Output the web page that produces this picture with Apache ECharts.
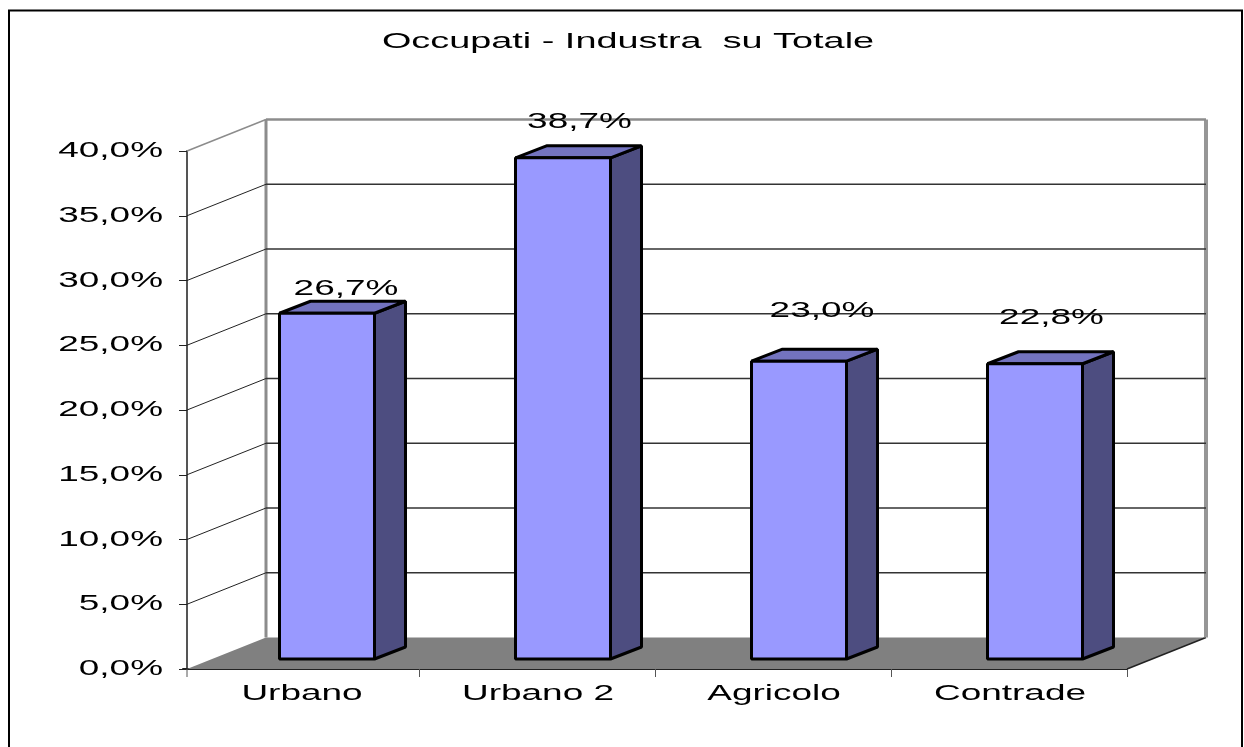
<!DOCTYPE html>
<html>
<head>
<meta charset="utf-8">
<style>
  html, body { margin: 0; padding: 0; background: #fff; }
  #chart { width: 1244px; height: 747px; }
</style>
</head>
<body>
<div id="chart"></div>
<script src="https://cdn.jsdelivr.net/npm/echarts@6/dist/echarts.min.js"></script>
<script>
const titleText = 'Occupati - Industra  su Totale'
const categories = ['Urbano', 'Urbano 2', 'Agricolo', 'Contrade']
const values = [26.7, 38.7, 23.0, 22.8]
const valueLabels = ['26,7%', '38,7%', '23,0%', '22,8%']
const yTicks = [0, 5, 10, 15, 20, 25, 30, 35, 40]
const yTickLabels = ['0,0%', '5,0%', '10,0%', '15,0%', '20,0%', '25,0%', '30,0%', '35,0%', '40,0%']

// excel style fake 3d, offsets in px
const WALL_DX = 79
const WALL_DY = 31.5
const BAR_DX = 31
const BAR_DY = 12
const BAR_WIDTH = 95
const BAR_SHIFT = 26
const BAR_LIFT = 10
const AXIS_X = 187
// the labels in the original sit at uneven places above the bars
const labelNudge = [[19, -24], [16.5, -36], [23, -50], [16.5, -46]]

const FONT = '22px "Liberation Sans", Arial, sans-serif'
const TEXT_STRETCH = 1.68

function stretchedText(text, x, y, align) {
  return {
    type: 'text',
    x: x,
    y: y,
    scaleX: TEXT_STRETCH,
    style: { text: text, fill: '#000', font: FONT, align: align, verticalAlign: 'middle' }
  }
}

function line(x1, y1, x2, y2, color, width) {
  return {
    type: 'line',
    shape: { x1: x1, y1: y1, x2: x2, y2: y2 },
    style: { stroke: color, lineWidth: width }
  }
}

function poly(points, fill, stroke, width) {
  return {
    type: 'polygon',
    shape: { points: points },
    style: { fill: fill, stroke: stroke, lineWidth: width, lineJoin: 'bevel' }
  }
}

// floor, the two gray corner posts and the tick under the y axis
function renderFloor(params, api) {
  const right = params.coordSys.x + params.coordSys.width
  const y0 = api.coord([0, 0])[1]
  const yTop = api.coord([0, 40])[1]
  return {
    type: 'group',
    children: [
      poly([[AXIS_X, y0], [right, y0], [right + WALL_DX, y0 - WALL_DY], [AXIS_X + WALL_DX, y0 - WALL_DY]], '#808080', 'none', 0),
      line(right, y0, right + WALL_DX, y0 - WALL_DY, '#222', 1.5),
      line(AXIS_X + WALL_DX, yTop - WALL_DY, AXIS_X + WALL_DX, y0 - WALL_DY, '#8c8c8c', 3),
      line(right + WALL_DX, yTop - WALL_DY, right + WALL_DX, y0 - WALL_DY, '#969696', 4),
      line(AXIS_X, y0, AXIS_X, y0 + 8, '#555', 1)
    ]
  }
}

// gridlines run along the side wall then the back wall
function renderGrid(params, api) {
  const tick = yTicks[params.dataIndex]
  const right = params.coordSys.x + params.coordSys.width
  const y = api.coord([0, tick])[1]
  const isTop = tick === yTicks[yTicks.length - 1]
  const children = []
  if (tick > 0) {
    children.push(line(AXIS_X, y, AXIS_X + WALL_DX, y - WALL_DY, isTop ? '#8c8c8c' : '#222', isTop ? 1.5 : 1))
    children.push(line(AXIS_X + WALL_DX, y - WALL_DY, right + WALL_DX, y - WALL_DY, isTop ? '#8c8c8c' : '#333', isTop ? 2.5 : 1.5))
  }
  return { type: 'group', children: children }
}

function renderBar(params, api) {
  const pos = api.coord([api.value(0), api.value(1)])
  const base = api.coord([api.value(0), 0])
  const left = pos[0] + BAR_SHIFT - BAR_WIDTH / 2
  const right = left + BAR_WIDTH
  const top = pos[1] - BAR_LIFT
  const bottom = base[1] - BAR_LIFT
  return {
    type: 'group',
    children: [
      poly([[right, top], [right + BAR_DX, top - BAR_DY], [right + BAR_DX, bottom - BAR_DY], [right, bottom]], '#4d4d80', '#000', 3),
      poly([[left, top], [left + BAR_DX, top - BAR_DY], [right + BAR_DX, top - BAR_DY], [right, top]], '#7373bf', '#000', 3),
      poly([[left, top], [right, top], [right, bottom], [left, bottom]], '#9999ff', '#000', 3)
    ]
  }
}

function renderValueLabel(params, api) {
  const i = params.dataIndex
  const pos = api.coord([i, api.value(1)])
  return stretchedText(valueLabels[i], pos[0] + BAR_SHIFT + labelNudge[i][0], pos[1] - BAR_LIFT + labelNudge[i][1], 'center')
}

function renderTickLabel(params, api) {
  const y = api.coord([0, yTicks[params.dataIndex]])[1]
  return stretchedText(yTickLabels[params.dataIndex], 163, y, 'right')
}

function renderCategoryLabel(params, api) {
  const pos = api.coord([params.dataIndex, 0])
  return stretchedText(categories[params.dataIndex], pos[0] + 1, pos[1] + 25, 'center')
}

const chart = echarts.init(document.getElementById('chart'), null, { renderer: 'canvas' })

chart.setOption({
  animation: false,
  backgroundColor: '#fff',
  graphic: [
    {
      type: 'rect',
      silent: true,
      shape: { x: 9, y: 10.5, width: 1233, height: 760 },
      style: { fill: 'none', stroke: '#000', lineWidth: 2 }
    },
    {
      type: 'text',
      x: 628,
      y: 42,
      scaleX: 1.72,
      style: { text: titleText, fill: '#000', font: FONT, align: 'center', verticalAlign: 'middle' }
    }
  ],
  grid: { left: 183, right: 117, top: 151, bottom: 78 },
  xAxis: {
    type: 'category',
    data: categories,
    axisLine: { lineStyle: { color: '#222', width: 2 } },
    axisTick: { show: true, length: 8, interval: i => i > 0, lineStyle: { color: '#555', width: 1 } },
    axisLabel: { show: false },
    splitLine: { show: false }
  },
  yAxis: {
    type: 'value',
    min: 0,
    max: 40,
    interval: 5,
    offset: -4,
    axisLine: { show: true, lineStyle: { color: '#555', width: 2 } },
    axisTick: { show: true, length: 8, lineStyle: { color: '#222', width: 1 } },
    axisLabel: { show: false },
    splitLine: { show: false }
  },
  series: [
    { type: 'custom', z: 1, silent: true, renderItem: renderFloor, data: [[0, 0]] },
    { type: 'custom', z: 2, silent: true, renderItem: renderGrid, data: yTicks.map(t => [0, t]) },
    { type: 'custom', z: 3, silent: true, renderItem: renderBar, data: values.map((v, i) => [i, v]) },
    { type: 'custom', z: 4, silent: true, renderItem: renderValueLabel, data: values.map((v, i) => [i, v]) },
    { type: 'custom', z: 4, silent: true, renderItem: renderTickLabel, data: yTicks.map(t => [0, t]) },
    { type: 'custom', z: 4, silent: true, renderItem: renderCategoryLabel, data: categories.map((c, i) => [i, 0]) }
  ]
})
</script>
</body>
</html>
